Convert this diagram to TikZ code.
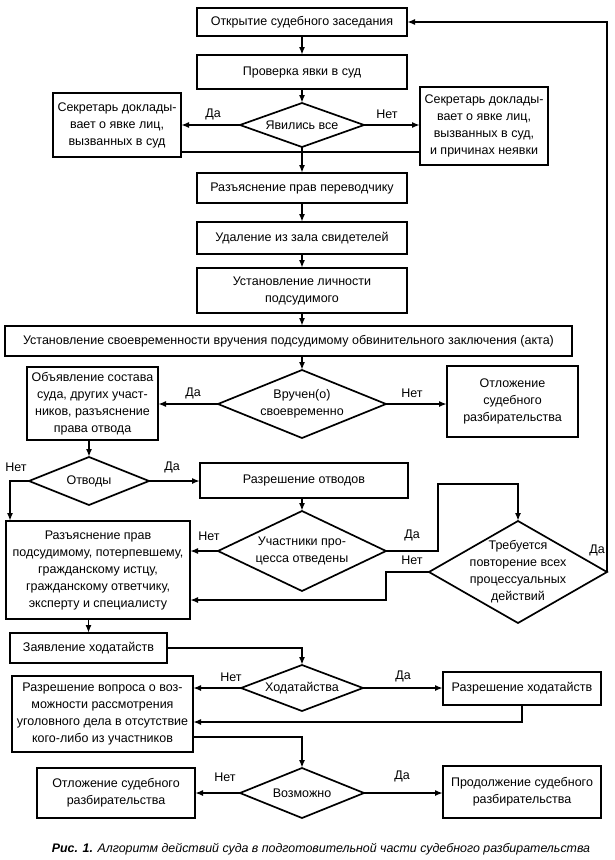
\documentclass[tikz,border=0pt]{standalone}
\usepackage{fontspec}
\setmainfont{Liberation Sans}
\usetikzlibrary{arrows.meta,shapes.geometric}
\begin{document}
\begin{tikzpicture}[x=1pt,y=-1pt,
  font=\fontsize{12.5}{17}\selectfont,
  box/.style={draw,line width=1.7pt,align=center,inner sep=2pt,outer sep=0pt},
  dia/.style={draw,shape=diamond,line width=1.7pt,inner sep=0pt,outer sep=0pt},
  arr/.style={line width=1.7pt,-{Latex[length=8pt,width=6pt]}},
  ln/.style={line width=1.7pt},
  lbl/.style={inner sep=0pt}]
\useasboundingbox (0,0) rectangle (615,860);
% boxes
\node[box,minimum width=210pt,minimum height=28pt] (b1) at (302,22) {Открытие судебного заседания};
\node[box,minimum width=210pt,minimum height=34pt] (b2) at (302,72) {Проверка явки в суд};
\node[box,minimum width=128pt,minimum height=64pt] (L1) at (117,125) {Секретарь доклады-\\вает о явке лиц,\\вызванных в суд};
\node[box,minimum width=128pt,minimum height=78pt] (R1) at (484,126) {Секретарь доклады-\\вает о явке лиц,\\вызванных в суд,\\и причинах неявки};
\node[dia,minimum width=124pt,minimum height=44pt,label={[align=center]center:Явились все}] (d1) at (302,125) {};
\node[box,minimum width=210pt,minimum height=30pt] (b3) at (302,188) {Разъяснение прав переводчику};
\node[box,minimum width=210pt,minimum height=32pt] (b4) at (302,238) {Удаление из зала свидетелей};
\node[box,minimum width=210pt,minimum height=45pt] (b5) at (302,290.5) {Установление личности\\подсудимого};
\node[box,minimum width=567pt,minimum height=30pt] (b6) at (288.5,341) {Установление своевременности вручения подсудимому обвинительного заключения (акта)};
\node[dia,minimum width=168pt,minimum height=68pt,label={[align=center]center:Вручен(о)\\своевременно}] (d2) at (302,404) {};
\node[box,minimum width=131pt,minimum height=73pt] (L2) at (92.5,403.5) {Объявление состава\\суда, других участ-\\ников, разъяснение\\права отвода};
\node[box,minimum width=131pt,minimum height=71pt] (R2) at (512.5,401.5) {Отложение\\судебного\\разбирательства};
\node[dia,minimum width=120pt,minimum height=48pt,label={[align=center]center:Отводы}] (d3) at (89,481) {};
\node[box,minimum width=208pt,minimum height=35pt] (ro) at (304,480.5) {Разрешение отводов};
\node[dia,minimum width=168pt,minimum height=80pt,label={[align=center]center:Участники про-\\цесса отведены}] (d4) at (302,551) {};
\node[box,minimum width=184pt,minimum height=98pt] (b7) at (98,570) {Разъяснение прав\\подсудимому, потерпевшему,\\гражданскому истцу,\\гражданскому ответчику,\\эксперту и специалисту};
\node[dia,minimum width=178pt,minimum height=102pt,label={[align=center]center:Требуется\\повторение всех\\процессуальных\\действий}] (d5) at (518,572) {};
\node[box,minimum width=157pt,minimum height=30pt] (b8) at (88.5,648) {Заявление ходатайств};
\node[dia,minimum width=122pt,minimum height=46pt,label={[align=center]center:Ходатайства}] (d6) at (302,688) {};
\node[box,minimum width=181pt,minimum height=76pt] (b9) at (102.5,714) {Разрешение вопроса о воз-\\можности рассмотрения\\уголовного дела в отсутствие\\кого-либо из участников};
\node[box,minimum width=158pt,minimum height=33pt] (b10) at (522,688.5) {Разрешение ходатайств};
\node[dia,minimum width=124pt,minimum height=50pt,label={[align=center]center:Возможно}] (d7) at (302,793) {};
\node[box,minimum width=158pt,minimum height=50pt] (b11) at (116,793) {Отложение судебного\\разбирательства};
\node[box,minimum width=158pt,minimum height=52pt] (b12) at (522,792) {Продолжение судебного\\разбирательства};
% labels
\node[lbl] (t1a) at (213,114) {Да};
\node[lbl] (t1b) at (387,114) {Нет};
\node[lbl] (t2a) at (193,393) {Да};
\node[lbl] (t2b) at (412,393) {Нет};
\node[lbl] (t3a) at (16,467) {Нет};
\node[lbl] (t3b) at (172,467) {Да};
\node[lbl] (t4a) at (209,536) {Нет};
\node[lbl] (t4b) at (412,535) {Да};
\node[lbl] (t5a) at (412,560) {Нет};
\node[lbl] (t5b) at (597,550) {Да};
\node[lbl] (t6a) at (231,677) {Нет};
\node[lbl] (t6b) at (403,676) {Да};
\node[lbl] (t7a) at (225,777) {Нет};
\node[lbl] (t7b) at (402,776) {Да};
% coordinates
\coordinate (mrg) at (302,152);
\coordinate (c3) at (10,481);
\coordinate (c4) at (438,484);
\coordinate (c5) at (386,600);
\coordinate (c10) at (0,722);
\coordinate (c9) at (0,737);
% connectors
\draw[arr] (b1) -- (b2);
\draw[arr] (b2) -- (d1);
\draw[arr] (d1.west) -- (d1.west -| L1.east);
\draw[arr] (d1.east) -- (d1.east -| R1.west);
\draw[ln] (mrg -| L1.east) -- (mrg -| R1.west);
\draw[arr] (d1.south) -- (b3.north);
\draw[arr] (b3) -- (b4);
\draw[arr] (b4) -- (b5);
\draw[arr] (b5.south) -- (b5.south |- b6.north);
\draw[arr] (d2.north |- b6.south) -- (d2.north);
\draw[arr] (d2.west) -- (d2.west -| L2.east);
\draw[arr] (d2.east) -- (d2.east -| R2.west);
\draw[arr] (d3.north |- L2.south) -- (d3.north);
\draw[arr] (d3.west) -- (c3) -- (c3 |- b7.north);
\draw[arr] (d3.east) -- (d3.east -| ro.west);
\draw[arr] (ro.south -| d4.north) -- (d4.north);
\draw[arr] (d4.west) -- (d4.west -| b7.east);
\draw[arr] (d4.east) -| (c4) -| (d5.north);
\draw[arr] (d5.west) -| (c5) -- (c5 -| b7.east);
\draw[arr] (d5.east) |- (b1.east);
\draw[arr] (b8.north |- b7.south) -- (b8.north);
\draw[arr] (b8.east) -| (d6.north);
\draw[arr] (d6.west) -- (d6.west -| b9.east);
\draw[arr] (d6.east) -- (d6.east -| b10.west);
\draw[arr] (b10.south) |- (c10 -| b9.east);
\draw[arr] (c9 -| b9.east) -| (d7.north);
\draw[arr] (d7.west) -- (d7.west -| b11.east);
\draw[arr] (d7.east) -- (d7.east -| b12.west);
% caption
\node[font=\fontsize{12.4}{14}\selectfont\itshape] (cap) at (321,849) {\textbf{Рис. 1.} Алгоритм действий суда в подготовительной части судебного разбирательства};
\end{tikzpicture}
\end{document}
